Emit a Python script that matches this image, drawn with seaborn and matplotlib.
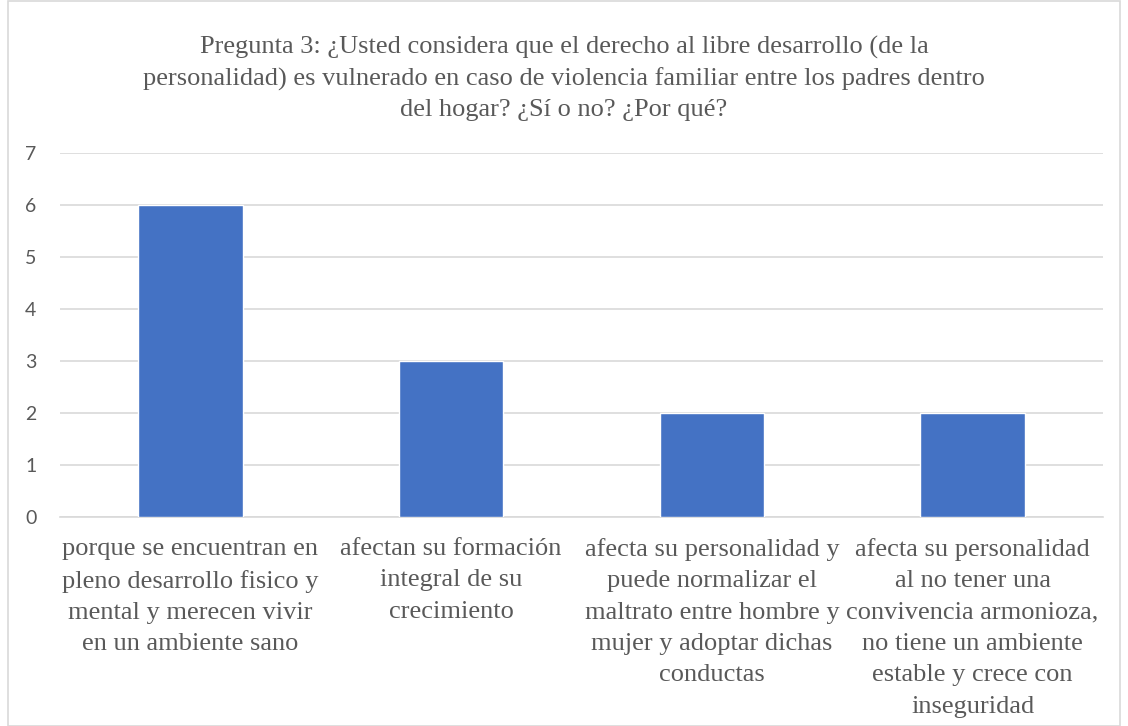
import matplotlib
matplotlib.use("Agg")
import matplotlib.pyplot as plt
import seaborn as sns
import pandas as pd
from matplotlib.patches import Rectangle

# Datos del gráfico
categorias = [
    "porque se encuentran en\npleno desarrollo fisico y\nmental y merecen vivir\nen un ambiente sano",
    "afectan su formación\nintegral de su\ncrecimiento",
    "afecta su personalidad y\npuede normalizar el\nmaltrato entre hombre y\nmujer y adoptar dichas\nconductas",
    "afecta su personalidad\nal no tener una\nconvivencia armonioza,\nno tiene un ambiente\nestable y crece con\ninseguridad",
]
valores = [6, 3, 2, 2]
titulo = ("Pregunta 3: ¿Usted considera que el derecho al libre desarrollo (de la\n"
          "personalidad) es vulnerado en caso de violencia familiar entre los padres dentro\n"
          "del hogar? ¿Sí o no? ¿Por qué?")

df = pd.DataFrame({"Respuesta": categorias, "Cantidad": valores})

sns.set_style("white")
plt.rcParams['font.family'] = ['Liberation Serif', 'DejaVu Serif']

fig = plt.figure(figsize=(11.28, 7.26), dpi=100)
ax = fig.add_axes([0.0532, 0.2879, 0.9246, 0.5014])

sns.barplot(data=df, x="Respuesta", y="Cantidad", color="#4472C4", width=0.4,
            saturation=1, ax=ax, zorder=3)

ax.set_ylim(0, 7)
ax.set_yticks(range(0, 8))
ax.set_xlim(-0.5, 3.5)
ax.yaxis.grid(True, color="#D9D9D9", linewidth=1.2, zorder=0)
ax.set_axisbelow(True)
for s in ["top", "right", "left"]:
    ax.spines[s].set_visible(False)
ax.spines["bottom"].set_color("#D9D9D9")
ax.spines["bottom"].set_linewidth(1.2)
ax.tick_params(axis="both", length=0)
ax.set_xlabel("")
ax.set_ylabel("")

for lbl in ax.get_yticklabels():
    lbl.set_family(["Lato", "DejaVu Sans"])
    lbl.set_fontsize(14)
    lbl.set_color("#595959")
ax.tick_params(axis="y", pad=17)
for lbl in ax.get_xticklabels():
    lbl.set_fontsize(19)
    lbl.set_color("#595959")
    lbl.set_linespacing(1.55)
ax.tick_params(axis="x", pad=15)

fig.text(0.5, 0.951, titulo, ha="center", va="top", fontsize=19,
         color="#595959", linespacing=1.47)

# Borde del gráfico
fig.patches.append(Rectangle((8 / 1128, 0.0), 1112 / 1128, 0.999, transform=fig.transFigure,
                             fill=False, edgecolor="#D9D9D9", linewidth=1.2))

fig.savefig("out.png", dpi=100)
